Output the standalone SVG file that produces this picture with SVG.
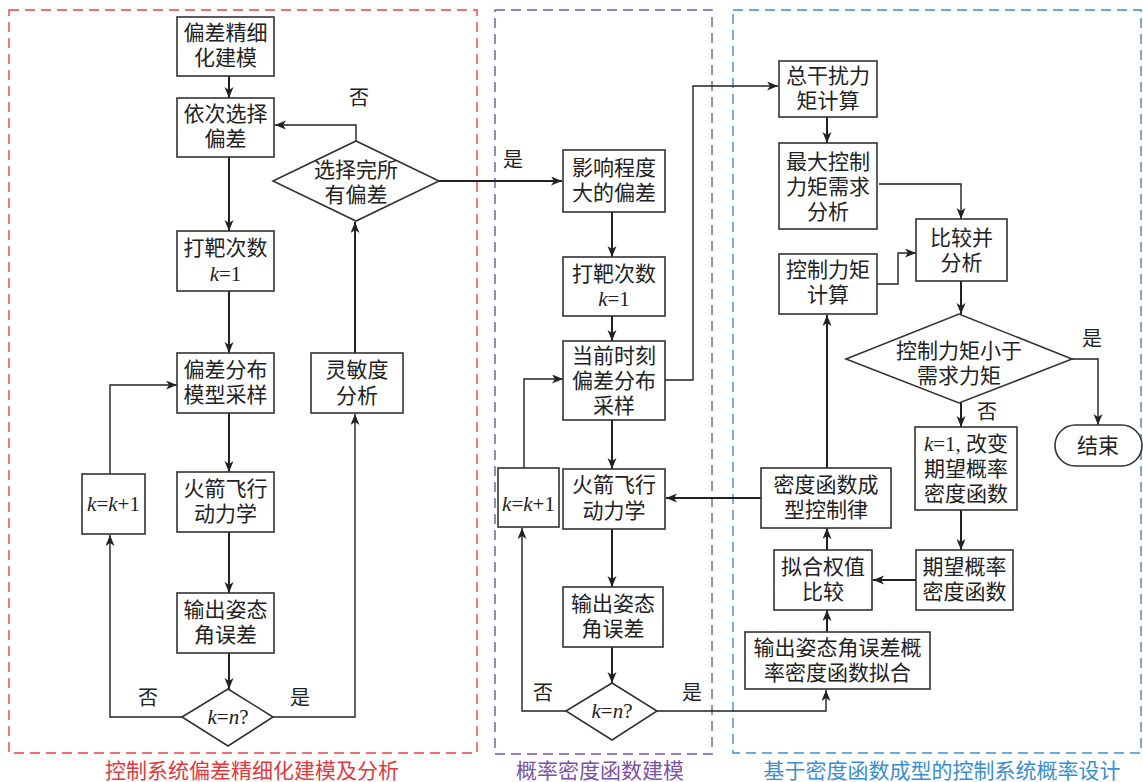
<svg xmlns="http://www.w3.org/2000/svg" width="1143" height="782" viewBox="0 0 1143 782">
<style>
.bg{fill:#fff}
.box{fill:#fff;stroke:#333;stroke-width:1.6}
.t{font-family:"Liberation Serif","Noto Sans CJK SC",serif;font-size:21px;fill:#222;text-anchor:middle}
.i{font-style:italic}
.lbl{font-family:"Liberation Serif","Noto Sans CJK SC",serif;font-size:20px;fill:#222;text-anchor:middle}
.thick{fill:none;stroke:#222;stroke-width:2}
.thin{fill:none;stroke:#222;stroke-width:1.4}
.zone{fill:none;stroke-width:1.4;stroke-dasharray:10 6}
.zt{font-family:"Liberation Serif","Noto Sans CJK SC",serif;font-size:21px;text-anchor:middle}
</style>
<defs>
<marker id="ah" markerUnits="userSpaceOnUse" markerWidth="12" markerHeight="10" refX="11" refY="4.5" orient="auto">
<path d="M0,0 L11,4.5 L0,9 L3,4.5 z" fill="#222"/>
</marker>
</defs>
<rect class="bg" x="0" y="0" width="1143" height="782"/>

<g id="zones">
<rect class="zone" x="9" y="10" width="468" height="743" stroke="#e8414a"/>
<text class="zt" x="252" y="778" fill="#e0393e">控制系统偏差精细化建模及分析</text>
<rect class="zone" x="495" y="10" width="217" height="744" stroke="#7a52a6"/>
<text class="zt" x="600" y="778" fill="#7a52a6">概率密度函数建模</text>
<rect class="zone" x="733" y="10" width="408" height="743" stroke="#3a8ed0"/>
<text class="zt" x="942" y="778" fill="#3a8ed0">基于密度函数成型的控制系统概率设计</text>
</g>

<g id="connectors">
<path class="thick" d="M229,76 V98" marker-end="url(#ah)"/>
<path class="thick" d="M229,157 V231" marker-end="url(#ah)"/>
<path class="thick" d="M229,291 V353" marker-end="url(#ah)"/>
<path class="thick" d="M229,413 V472" marker-end="url(#ah)"/>
<path class="thick" d="M229,532 V593" marker-end="url(#ah)"/>
<path class="thick" d="M229,653 V689" marker-end="url(#ah)"/>
<path class="thick" d="M355,353 V222" marker-end="url(#ah)"/>
<path class="thick" d="M439,181 H562" marker-end="url(#ah)"/>
<path class="thick" d="M612,212 V257" marker-end="url(#ah)"/>
<path class="thick" d="M612,316 V341" marker-end="url(#ah)"/>
<path class="thick" d="M612,420 V469" marker-end="url(#ah)"/>
<path class="thick" d="M612,529 V587" marker-end="url(#ah)"/>
<path class="thick" d="M612,647 V683" marker-end="url(#ah)"/>
<path class="thick" d="M761,498 H666" marker-end="url(#ah)"/>
<path class="thick" d="M827,117 V143" marker-end="url(#ah)"/>
<path class="thick" d="M961,281 V314" marker-end="url(#ah)"/>
<path class="thick" d="M961,402 V427" marker-end="url(#ah)"/>
<path class="thick" d="M961,510 V550" marker-end="url(#ah)"/>
<path class="thick" d="M916,580 H873" marker-end="url(#ah)"/>
<path class="thick" d="M827,550 V528" marker-end="url(#ah)"/>
<path class="thick" d="M827,632 V610" marker-end="url(#ah)"/>
<path class="thick" d="M827,468 V315" marker-end="url(#ah)"/>

<path class="thin" d="M356,141 V125 H275" marker-end="url(#ah)"/>
<path class="thin" d="M110,474 V385 H177" marker-end="url(#ah)"/>
<path class="thin" d="M182,717 H110 V535" marker-end="url(#ah)"/>
<path class="thin" d="M273,717 H355 V414" marker-end="url(#ah)"/>
<path class="thin" d="M665,380 H693 V86 H778" marker-end="url(#ah)"/>
<path class="thin" d="M524,468 V379 H563" marker-end="url(#ah)"/>
<path class="thin" d="M566,711 H522 V528" marker-end="url(#ah)"/>
<path class="thin" d="M657,711 H826 V690" marker-end="url(#ah)"/>
<path class="thin" d="M879,184 H961 V219" marker-end="url(#ah)"/>
<path class="thin" d="M877,284 H898 V253 H916" marker-end="url(#ah)"/>
<path class="thin" d="M1072,359 H1098 V425" marker-end="url(#ah)"/>
</g>

<g id="labels">
<text class="lbl" x="359" y="105">否</text>
<text class="lbl" x="513" y="167">是</text>
<text class="lbl" x="148" y="705">否</text>
<text class="lbl" x="300" y="705">是</text>
<text class="lbl" x="543" y="700">否</text>
<text class="lbl" x="692" y="700">是</text>
<text class="lbl" x="1092" y="346">是</text>
<text class="lbl" x="987" y="419">否</text>
</g>

<g id="n1"><rect class="box" x="177" y="17" width="97" height="59"/>
<text class="t" x="225.5" y="40">偏差精细</text><text class="t" x="225.5" y="65">化建模</text></g>
<g id="n2"><rect class="box" x="177" y="98" width="97" height="59"/>
<text class="t" x="225.5" y="121">依次选择</text><text class="t" x="225.5" y="146">偏差</text></g>
<g id="d1"><polygon class="box" points="273,181 356,141 439,181 356,221"/>
<text class="t" x="356" y="177">选择完所</text><text class="t" x="356" y="202">有偏差</text></g>
<g id="n3"><rect class="box" x="177" y="231" width="97" height="60"/>
<text class="t" x="225.5" y="255">打靶次数</text><text class="t" x="225.5" y="281"><tspan class="i">k</tspan>=1</text></g>
<g id="n4"><rect class="box" x="177" y="353" width="97" height="60"/>
<text class="t" x="225.5" y="377">偏差分布</text><text class="t" x="225.5" y="402">模型采样</text></g>
<g id="n5"><rect class="box" x="311" y="353" width="92" height="60"/>
<text class="t" x="357" y="377">灵敏度</text><text class="t" x="357" y="403">分析</text></g>
<g id="n6"><rect class="box" x="177" y="472" width="97" height="60"/>
<text class="t" x="225.5" y="496">火箭飞行</text><text class="t" x="225.5" y="521">动力学</text></g>
<g id="n7"><rect class="box" x="82" y="474" width="63" height="60"/>
<text class="t" x="113.5" y="511"><tspan class="i">k</tspan>=<tspan class="i">k</tspan>+1</text></g>
<g id="n8"><rect class="box" x="177" y="593" width="97" height="60"/>
<text class="t" x="225.5" y="617">输出姿态</text><text class="t" x="225.5" y="642">角误差</text></g>
<g id="d2"><polygon class="box" points="182,717 228,689 273,717 228,746"/>
<text class="t" x="228" y="724"><tspan class="i">k</tspan>=<tspan class="i">n</tspan>?</text></g>

<g id="m1"><rect class="box" x="563" y="150" width="102" height="62"/>
<text class="t" x="614" y="175">影响程度</text><text class="t" x="614" y="200">大的偏差</text></g>
<g id="m2"><rect class="box" x="563" y="257" width="102" height="59"/>
<text class="t" x="614" y="281">打靶次数</text><text class="t" x="614" y="306"><tspan class="i">k</tspan>=1</text></g>
<g id="m3"><rect class="box" x="563" y="341" width="102" height="79"/>
<text class="t" x="614" y="363">当前时刻</text><text class="t" x="614" y="388">偏差分布</text><text class="t" x="614" y="413">采样</text></g>
<g id="m4"><rect class="box" x="498" y="468" width="61" height="59"/>
<text class="t" x="528.5" y="511"><tspan class="i">k</tspan>=<tspan class="i">k</tspan>+1</text></g>
<g id="m5"><rect class="box" x="563" y="469" width="102" height="60"/>
<text class="t" x="614" y="492">火箭飞行</text><text class="t" x="614" y="518">动力学</text></g>
<g id="m6"><rect class="box" x="563" y="587" width="100" height="60"/>
<text class="t" x="613" y="611">输出姿态</text><text class="t" x="613" y="636">角误差</text></g>
<g id="d3"><polygon class="box" points="566,711 612,683 657,711 612,740"/>
<text class="t" x="612" y="718"><tspan class="i">k</tspan>=<tspan class="i">n</tspan>?</text></g>

<g id="r1"><rect class="box" x="779" y="61" width="98" height="56"/>
<text class="t" x="828" y="83">总干扰力</text><text class="t" x="828" y="108">矩计算</text></g>
<g id="r2"><rect class="box" x="779" y="143" width="98" height="86"/>
<text class="t" x="828" y="169">最大控制</text><text class="t" x="828" y="194">力矩需求</text><text class="t" x="828" y="219">分析</text></g>
<g id="r3"><rect class="box" x="916" y="219" width="91" height="62"/>
<text class="t" x="961.5" y="245">比较并</text><text class="t" x="961.5" y="270">分析</text></g>
<g id="r4"><rect class="box" x="779" y="254" width="98" height="60"/>
<text class="t" x="828" y="277">控制力矩</text><text class="t" x="828" y="302">计算</text></g>
<g id="d4"><polygon class="box" points="846,359 959,314 1072,359 959,403"/>
<text class="t" x="959" y="358">控制力矩小于</text><text class="t" x="959" y="383">需求力矩</text></g>
<g id="end"><rect class="box" x="1055" y="425" width="87" height="41" rx="20.5" ry="20.5"/>
<text class="t" x="1098" y="453">结束</text></g>
<g id="r5"><rect class="box" x="915" y="427" width="102" height="83"/>
<text class="t" x="966" y="451"><tspan class="i">k</tspan>=1, 改变</text><text class="t" x="966" y="476">期望概率</text><text class="t" x="966" y="501">密度函数</text></g>
<g id="r6"><rect class="box" x="916" y="550" width="97" height="60"/>
<text class="t" x="964.5" y="574">期望概率</text><text class="t" x="964.5" y="599">密度函数</text></g>
<g id="r7"><rect class="box" x="774" y="550" width="98" height="60"/>
<text class="t" x="823" y="574">拟合权值</text><text class="t" x="823" y="599">比较</text></g>
<g id="r8"><rect class="box" x="761" y="468" width="130" height="60"/>
<text class="t" x="826" y="492">密度函数成</text><text class="t" x="826" y="517">型控制律</text></g>
<g id="r9"><rect class="box" x="745" y="632" width="185" height="57"/>
<text class="t" x="837.5" y="655">输出姿态角误差概</text><text class="t" x="837.5" y="680">率密度函数拟合</text></g>
</svg>
